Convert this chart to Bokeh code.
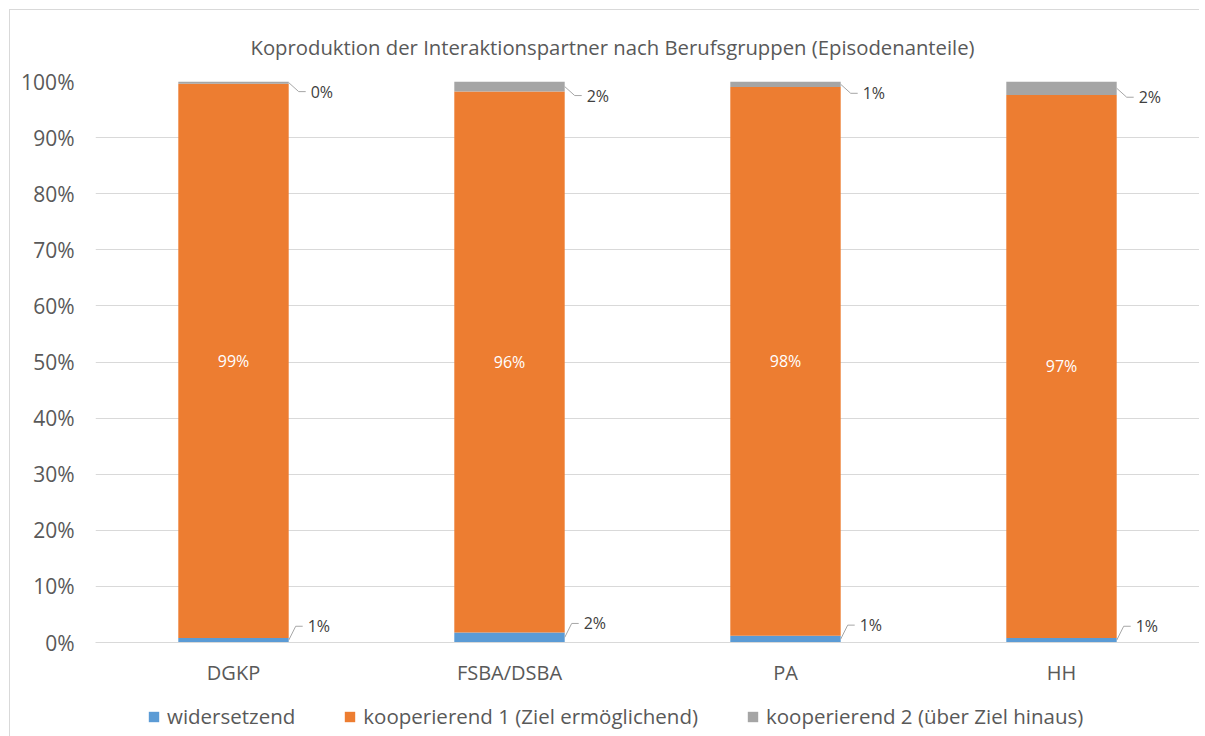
from bokeh.plotting import figure
from bokeh.layouts import column
from bokeh.models import (Range1d, FixedTicker, NumeralTickFormatter, Legend,
                          LegendItem, ColumnDataSource, Title)
from bokeh.core.properties import value
from bokeh.embed import file_html
from bokeh.resources import INLINE

# ---------------- data ----------------
categories = ["DGKP", "FSBA/DSBA", "PA", "HH"]
widersetzend = [0.8, 1.8, 1.2, 0.8]
kooperierend_1 = [98.8, 96.4, 97.8, 96.8]
kooperierend_2 = [0.4, 1.8, 1.0, 2.4]
series_names = ["widersetzend", "kooperierend 1 (Ziel ermöglichend)",
                "kooperierend 2 (über Ziel hinaus)"]
colors = ["#5B9BD5", "#ED7D31", "#A5A5A5"]
y_ticks = [0, 10, 20, 30, 40, 50, 60, 70, 80, 90, 100]
title_text = "Koproduktion der Interaktionspartner nach Berufsgruppen (Episodenanteile)"

FONT = "Open Sans"
W, H = 1189, 678
ML, MR, MT, MB = 85, 0, 71, 46
LEG_H = 48
frame_w = W - ML - MR
frame_h = H - MT - MB
n = len(categories)
px_x = frame_w / n        # px per x unit
px_y = frame_h / 1.0      # px per y unit (fraction)
bar_w = 0.4

xs = [i + 0.5 for i in range(n)]
w = [v / 100 for v in widersetzend]
k1 = [v / 100 for v in kooperierend_1]
k2 = [v / 100 for v in kooperierend_2]

source = ColumnDataSource(dict(x=xs, s0=w, s1=k1, s2=k2))

p = figure(width=W, height=H, output_backend="svg", toolbar_location=None,
           x_range=Range1d(0, n), y_range=Range1d(0, 1),
           min_border_left=ML, min_border_right=MR,
           min_border_top=MT, min_border_bottom=MB,
           background_fill_color="white", border_fill_color="white")
p.outline_line_color = None

renderers = p.vbar_stack(["s0", "s1", "s2"], x="x", width=bar_w, color=colors,
                         line_color=None, source=source)

# title
t = Title(text=title_text, text_font=FONT, text_font_size="20.3px",
          text_color="#595959", text_font_style="normal", align="left",
          offset=155, standoff=41)
p.add_layout(t, "above")

# axes
p.xaxis.ticker = FixedTicker(ticks=xs)
p.xaxis.major_label_overrides = {x: c for x, c in zip(xs, categories)}
p.yaxis.ticker = FixedTicker(ticks=[v / 100 for v in y_ticks])
p.yaxis.formatter = NumeralTickFormatter(format="0%")
for ax in (p.xaxis, p.yaxis):
    ax.major_tick_line_color = None
    ax.minor_tick_line_color = None
    ax.major_tick_out = 0
    ax.major_tick_in = 0
    ax.major_label_text_font = FONT
    ax.major_label_text_color = "#595959"
p.xaxis.major_label_text_font_size = "20px"
p.yaxis.major_label_text_font_size = "21px"
p.yaxis.axis_line_color = None
p.xaxis.axis_line_color = "#D9D9D9"
p.yaxis.major_label_standoff = 21
p.xaxis.major_label_standoff = 16
p.xgrid.grid_line_color = None
p.ygrid.grid_line_color = "#D9D9D9"
p.ygrid.grid_line_width = 1

# inner labels (orange segments)
mid_labels = dict(x=xs, y=[a + b / 2 for a, b in zip(w, k1)],
                  t=[f"{round(v):d}%" for v in kooperierend_1])
p.text(x="x", y="y", text="t", source=ColumnDataSource(mid_labels),
       text_font=value(FONT), text_font_size="16px", text_color="white",
       text_align="center", text_baseline="middle")

# callout labels for small segments
lx, ly, tx, ty, tt = [], [], [], [], []
for i in range(n):
    xr = xs[i] + bar_w / 2
    # bottom (widersetzend)
    m = w[i] / 2
    y2 = m + 14 / px_y
    lx.append([xr, xr + 7 / px_x, xr + 14 / px_x])
    ly.append([m, y2, y2])
    tx.append(xr + 19 / px_x); ty.append(y2)
    tt.append(f"{round(widersetzend[i]):d}%")
    # top (kooperierend 2)
    m = w[i] + k1[i] + k2[i] / 2
    y2 = m - 9 / px_y
    lx.append([xr, xr + 10 / px_x, xr + 17 / px_x])
    ly.append([m, y2, y2])
    tx.append(xr + 22 / px_x); ty.append(y2)
    tt.append(f"{round(kooperierend_2[i]):d}%")

p.multi_line(xs=lx, ys=ly, line_color="#A6A6A6", line_width=1)
p.text(x=tx, y=ty, text=tt, text_font=value(FONT), text_font_size="16px",
       text_color="#404040", text_align="left", text_baseline="middle")

# legend strip below the chart (its frame is aligned with the chart's frame)
p2 = figure(width=W, height=LEG_H, output_backend="svg", toolbar_location=None,
            x_range=Range1d(0, 1), y_range=Range1d(0, 1),
            x_axis_location=None, y_axis_location=None,
            min_border=0, min_border_left=0, min_border_right=0,
            min_border_top=0, min_border_bottom=0,
            background_fill_color="white", border_fill_color="white")
p2.title.visible = False
p2.outline_line_color = None
p2.grid.visible = False
# swatch renderers: one hidden bar each (outside the visible range) so the legend draws its square
leg_renderers = [p2.vbar(x=[-10], top=[0], width=0.1, color=c, line_color=None)
                 for c in colors]
items = [LegendItem(label=nm, renderers=[r]) for nm, r in zip(series_names, leg_renderers)]
legend = Legend(items=items, orientation="horizontal", location=(52, 6),
                glyph_width=13, glyph_height=13, label_standoff=7, spacing=48,
                label_text_font=FONT, label_text_font_size="20.5px",
                label_text_color="#595959", border_line_color=None,
                background_fill_alpha=0, padding=0, margin=0)
p2.add_layout(legend, "center")

layout = column(p, p2, spacing=0,
                styles={"margin-left": "9px", "margin-top": "9px",
                        "border-top": "1px solid #d9d9d9",
                        "border-left": "1px solid #d9d9d9"})

open("out.html", "w").write(file_html(layout, INLINE))
